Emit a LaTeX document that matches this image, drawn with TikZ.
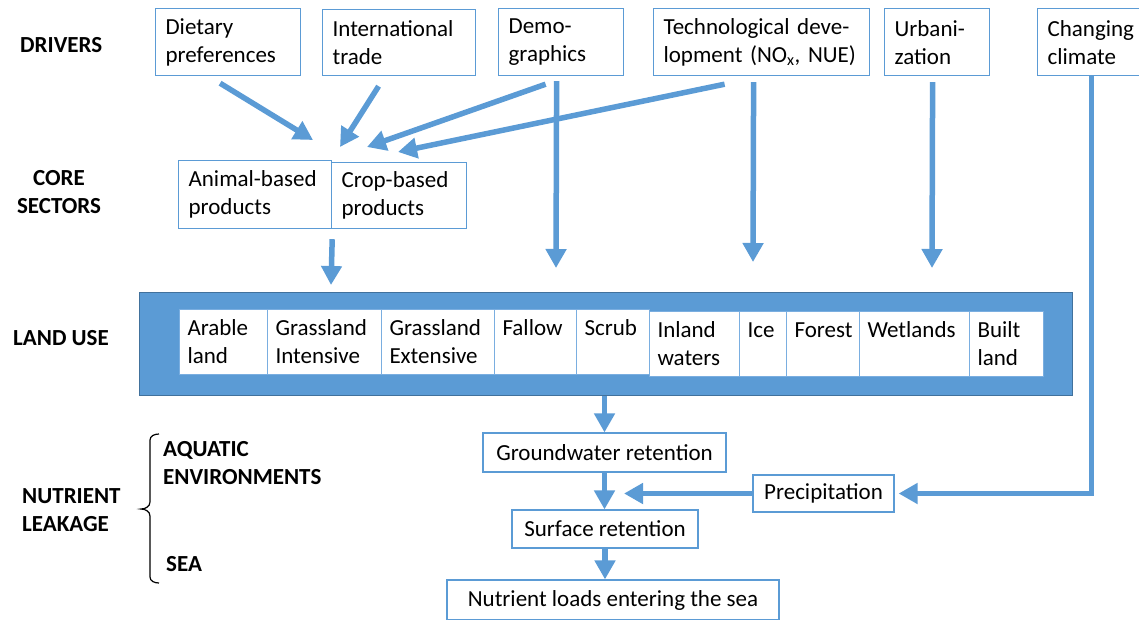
\documentclass[tikz,border=0pt]{standalone}
\usepackage{fontspec}
\setmainfont{Carlito}
\usetikzlibrary{arrows.meta,calc}
\definecolor{ablue}{HTML}{5B9BD5}
\definecolor{dblue}{HTML}{41719C}
\definecolor{lblue}{HTML}{7AAEE0}
\begin{document}
\begin{tikzpicture}[x=1pt,y=-1pt,
 every node/.style={font=\fontsize{23}{28}\selectfont, text=black},
 box/.style={draw=ablue, line width=1.2pt, fill=white, inner xsep=10pt, inner ysep=0pt, align=left},
 dbox/.style={box, anchor=north west},
 lbl/.style={font=\fontsize{23}{28}\selectfont\bfseries, align=left, anchor=west, inner sep=0pt},
 arr/.style={draw=ablue, line width=5.5pt, -{Triangle[length=19pt,width=20pt]}},
 cell/.style={draw=lblue, line width=1pt, fill=white, inner xsep=8pt, inner ysep=0pt, align=left, minimum height=65pt, anchor=north west},
]
\useasboundingbox (0,0) rectangle (1139,619);

% left labels
\node[lbl] (drv) at (20,45) {DRIVERS};
\node[lbl, anchor=center, align=center] (core) at (59,192) {CORE\\SECTORS};
\node[lbl] (lu) at (13,338) {LAND USE};
\node[lbl] (nl) at (22,510) {NUTRIENT\\LEAKAGE};
\node[lbl] (aq) at (163,463) {AQUATIC\\ENVIRONMENTS};
\node[lbl] (sea) at (166,564) {SEA};
\draw[black, line width=1.2pt] (159,434) to[out=180,in=90] (150,440) -- (150,502)
  to[out=-90,in=0] (141,509) to[out=0,in=90] (150,516) -- (150,577) to[out=-90,in=180] (159,583);

% drivers
\node[dbox, minimum width=145pt, minimum height=67pt, text width=125pt] (diet) at (155,8) {Dietary\\preferences};
\node[dbox, minimum width=153pt, minimum height=66pt, text width=133pt] (intl) at (322,9) {International\\trade};
\node[dbox, minimum width=125pt, minimum height=67pt, text width=105pt] (demo) at (498,8) {Demo-\\graphics};
\node[dbox, minimum width=216pt, minimum height=67pt, text width=196pt] (tech) at (653,8) {\mbox{Technological deve-}\\\mbox{lopment (NO\textsubscript{x}, NUE)}};
\node[dbox, minimum width=105pt, minimum height=67pt, text width=85pt] (urb) at (884,8) {Urbani-\\zation};
\node[dbox, minimum width=110pt, minimum height=67pt, text width=90pt] (clim) at (1037,8) {Changing\\climate};

% core sectors
\node[dbox, minimum width=153pt, minimum height=68pt, text width=133pt] (anim) at (178,160) {Animal-based\\products};
\node[dbox, minimum width=135pt, minimum height=66pt, text width=115pt] (crop) at (331,162) {Crop-based\\products};

% land use
\node[draw=dblue, fill=ablue, line width=1.2pt, minimum width=933pt, minimum height=103pt, anchor=north west, inner sep=0pt] (bar) at (139,292) {};
\node[cell, minimum width=88pt, text width=72pt] (arable) at (179,309) {Arable\\land};
\node[cell, minimum width=114pt, text width=98pt] (gint) at (267,309) {Grassland\\Intensive};
\node[cell, minimum width=113pt, text width=97pt] (gext) at (381,309) {Grassland\\Extensive};
\node[cell, minimum width=82pt, text width=66pt] (fallow) at (494,309) {Fallow\\\mbox{}};
\node[cell, minimum width=73pt, text width=57pt] (scrub) at (576,309) {Scrub\\\mbox{}};
\node[cell, minimum width=90pt, text width=74pt] (inland) at (649,311) {Inland\\waters};
\node[cell, minimum width=47pt, text width=31pt] (ice) at (739,311) {Ice\\\mbox{}};
\node[cell, minimum width=73pt, text width=57pt, inner xsep=7pt] (forest) at (786,311) {Forest\\\mbox{}};
\node[cell, minimum width=110pt, text width=94pt] (wet) at (859,311) {Wetlands\\\mbox{}};
\node[cell, minimum width=74pt, text width=58pt] (built) at (969,311) {Built\\land};

% nutrient leakage chain
\node[box, minimum width=243pt, minimum height=39pt] (gw) at (604.5,452.5) {Groundwater retention};
\node[box, minimum width=141pt, minimum height=37pt] (precip) at (823.5,493.5) {Precipitation};
\node[box, minimum width=186pt, minimum height=38pt] (surf) at (605,529) {Surface retention};
\node[box, minimum width=332pt, minimum height=40pt] (nut) at (613,600) {Nutrient loads entering the sea};

% free ends
\coordinate (t1) at (313,140);
\coordinate (t2) at (340,147);
\coordinate (t3) at (367,147);
\coordinate (t4) at (398,152);
\coordinate (vd) at (556,268);
\coordinate (vt) at (753,262);
\coordinate (vu) at (932,268);
\coordinate (cl) at (331,285);
\coordinate (pt) at (624,493.5);

% arrows
\draw[arr] ([xshift=-8pt,yshift=-7pt]diet.south) -- (t1);
\draw[arr] ([xshift=-20.5pt,yshift=-10pt]intl.south) -- (t2);
\draw[arr] ([xshift=-15.5pt,yshift=-8pt]demo.south) -- (t3);
\draw[arr] ([xshift=-37pt,yshift=-8pt]tech.south) -- (t4);
\draw[arr] ([xshift=-4.5pt,yshift=-5pt]demo.south) -- (vd);
\draw[arr] ([xshift=-8pt,yshift=-6pt]tech.south) -- (vt);
\draw[arr] ([xshift=-4.5pt,yshift=-6pt]urb.south) -- (vu);
\draw[arr, shorten >=4pt] ([xshift=-1pt]clim.south) |- (precip.east);
\draw[arr] ([yshift=-10pt]anim.south east) -- (cl);
\draw[arr] (gw.north |- bar.south) -- (gw.north);
\draw[arr] (gw.south) -- (gw.south |- surf.north);
\draw[arr] (surf.south) -- (surf.south |- nut.north);
\draw[arr] (precip.west) -- (pt);
\end{tikzpicture}
\end{document}
